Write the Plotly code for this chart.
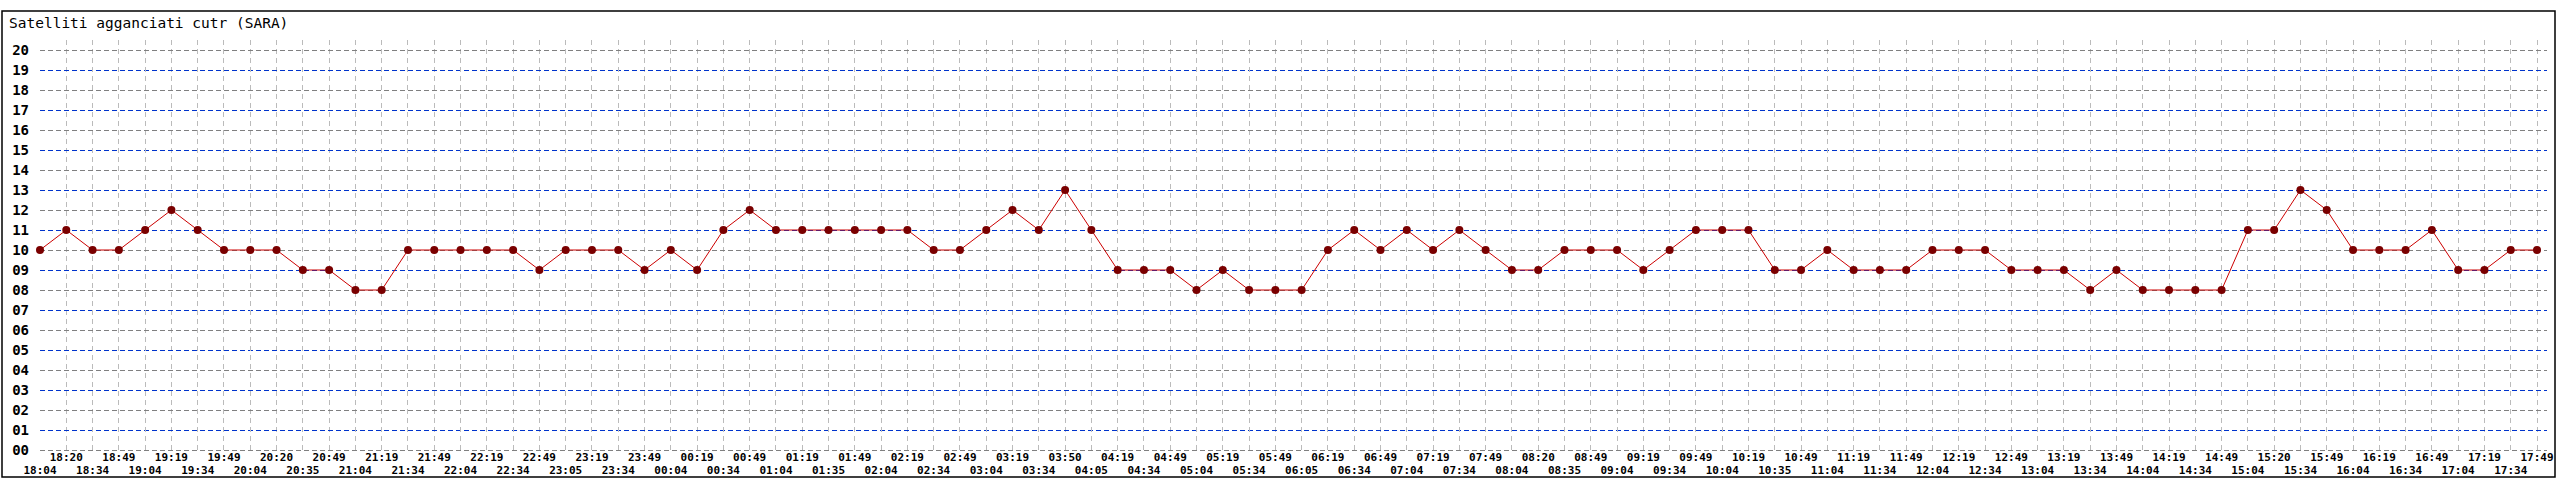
import plotly.graph_objects as go

title_text = "Satelliti agganciati cutr (SARA)"

time_labels = [
    "18:04", "18:20", "18:34", "18:49", "19:04", "19:19", "19:34", "19:49",
    "20:04", "20:20", "20:35", "20:49", "21:04", "21:19", "21:34", "21:49",
    "22:04", "22:19", "22:34", "22:49", "23:05", "23:19", "23:34", "23:49",
    "00:04", "00:19", "00:34", "00:49", "01:04", "01:19", "01:35", "01:49",
    "02:04", "02:19", "02:34", "02:49", "03:04", "03:19", "03:34", "03:50",
    "04:05", "04:19", "04:34", "04:49", "05:04", "05:19", "05:34", "05:49",
    "06:05", "06:19", "06:34", "06:49", "07:04", "07:19", "07:34", "07:49",
    "08:04", "08:20", "08:35", "08:49", "09:04", "09:19", "09:34", "09:49",
    "10:04", "10:19", "10:35", "10:49", "11:04", "11:19", "11:34", "11:49",
    "12:04", "12:19", "12:34", "12:49", "13:04", "13:19", "13:34", "13:49",
    "14:04", "14:19", "14:34", "14:49", "15:04", "15:20", "15:34", "15:49",
    "16:04", "16:19", "16:34", "16:49", "17:04", "17:19", "17:34", "17:49",
]

satellites = [
    10, 11, 10, 10, 11, 12, 11, 10, 10, 10,
    9, 9, 8, 8, 10, 10, 10, 10, 10, 9,
    10, 10, 10, 9, 10, 9, 11, 12, 11, 11,
    11, 11, 11, 11, 10, 10, 11, 12, 11, 13,
    11, 9, 9, 9, 8, 9, 8, 8, 8, 10,
    11, 10, 11, 10, 11, 10, 9, 9, 10, 10,
    10, 9, 10, 11, 11, 11, 9, 9, 10, 9,
    9, 9, 10, 10, 10, 9, 9, 9, 8, 9,
    8, 8, 8, 8, 11, 11, 13, 12, 10, 10,
    10, 11, 9, 9, 10, 10,
]

y_values = list(range(0, 21))
y_labels = [f"{v:02d}" for v in y_values]

idx = list(range(len(time_labels)))
even_idx = idx[0::2]
odd_idx = idx[1::2]
even_y = [v for v in y_values if v % 2 == 0]
odd_y = [v for v in y_values if v % 2 == 1]

W, H = 2560, 480
L, R, T, B = 40, 13, 40, 28
plot_w = W - L - R
plot_h = H - T - B

mono = "DejaVu Sans Mono"

fig = go.Figure()
fig.add_trace(go.Scatter(
    x=idx, y=satellites, mode="lines+markers",
    line=dict(color="#cc0000", width=1),
    marker=dict(color="#7a0000", size=8, line=dict(width=0)),
    showlegend=False, hoverinfo="x+y", cliponaxis=False,
))
# invisible helper trace so the overlay axes are drawn
fig.add_trace(go.Scatter(
    x=idx, y=satellites, mode="lines", xaxis="x2", yaxis="y2",
    line=dict(width=0), opacity=0, showlegend=False, hoverinfo="skip",
))

x_range = [0, 95.38]
y_range = [-0.1, 20.5]

xfont = dict(family=mono, size=11, color="black", weight="bold")
yfont = dict(family=mono, size=14, color="black", weight="bold")

fig.update_layout(
    width=W, height=H,
    margin=dict(l=L, r=R, t=T, b=B, pad=0, autoexpand=False),
    paper_bgcolor="white", plot_bgcolor="white",
    title=dict(text=title_text, x=9 / W, xanchor="left", y=1 - 23 / H, yanchor="middle",
               font=dict(family=mono, size=14.5, color="black"), automargin=False),
    xaxis=dict(
        range=x_range, tickmode="array", tickvals=even_idx,
        ticktext=[time_labels[i] for i in even_idx],
        showgrid=True, gridcolor="#bbbbbb", griddash="5px,4px", gridwidth=1,
        minor=dict(tickmode="array", tickvals=odd_idx, showgrid=True,
                   gridcolor="#bbbbbb", griddash="5px,4px", gridwidth=1, ticks=""),
        ticks="", zeroline=False, showline=False, tickangle=0, automargin=False,
        tickfont=xfont, ticklabelstandoff=10,
    ),
    xaxis2=dict(
        range=x_range, overlaying="x", side="bottom", anchor="y",
        tickmode="array", tickvals=odd_idx,
        ticktext=[time_labels[i] for i in odd_idx],
        showgrid=False, ticks="", zeroline=False, showline=False, tickangle=0,
        automargin=False, tickfont=xfont, ticklabelstandoff=-3,
    ),
    yaxis=dict(
        range=y_range, tickmode="array", tickvals=even_y,
        ticktext=[y_labels[v] for v in even_y],
        showgrid=True, gridcolor="#808080", griddash="5px,3px", gridwidth=1,
        minor=dict(tickmode="array", tickvals=odd_y, showgrid=True,
                   gridcolor="#0033cc", griddash="5px,3px", gridwidth=1, ticks=""),
        ticks="", zeroline=False, showline=False, automargin=False,
        tickfont=yfont, ticklabelstandoff=10,
    ),
    yaxis2=dict(
        range=y_range, overlaying="y", side="left", anchor="x",
        tickmode="array", tickvals=odd_y,
        ticktext=[y_labels[v] for v in odd_y],
        showgrid=False, ticks="", zeroline=False, showline=False, automargin=False,
        tickfont=yfont, ticklabelstandoff=10,
    ),
)

# outer frame around the whole chart (pixel box converted to paper coords)
fx0, fy0, fx1, fy1 = 2, 11, 2555, 477
fig.add_shape(
    type="rect", xref="paper", yref="paper",
    x0=(fx0 - L) / plot_w, x1=(fx1 - L) / plot_w,
    y0=1 - (fy1 - T) / plot_h, y1=1 - (fy0 - T) / plot_h,
    line=dict(color="black", width=1.5), fillcolor="rgba(0,0,0,0)", layer="above",
)

fig.write_html(
    "out.html",
    config={"displayModeBar": False},
    post_script="document.body.style.margin='0';document.body.style.overflow='hidden';",
)
